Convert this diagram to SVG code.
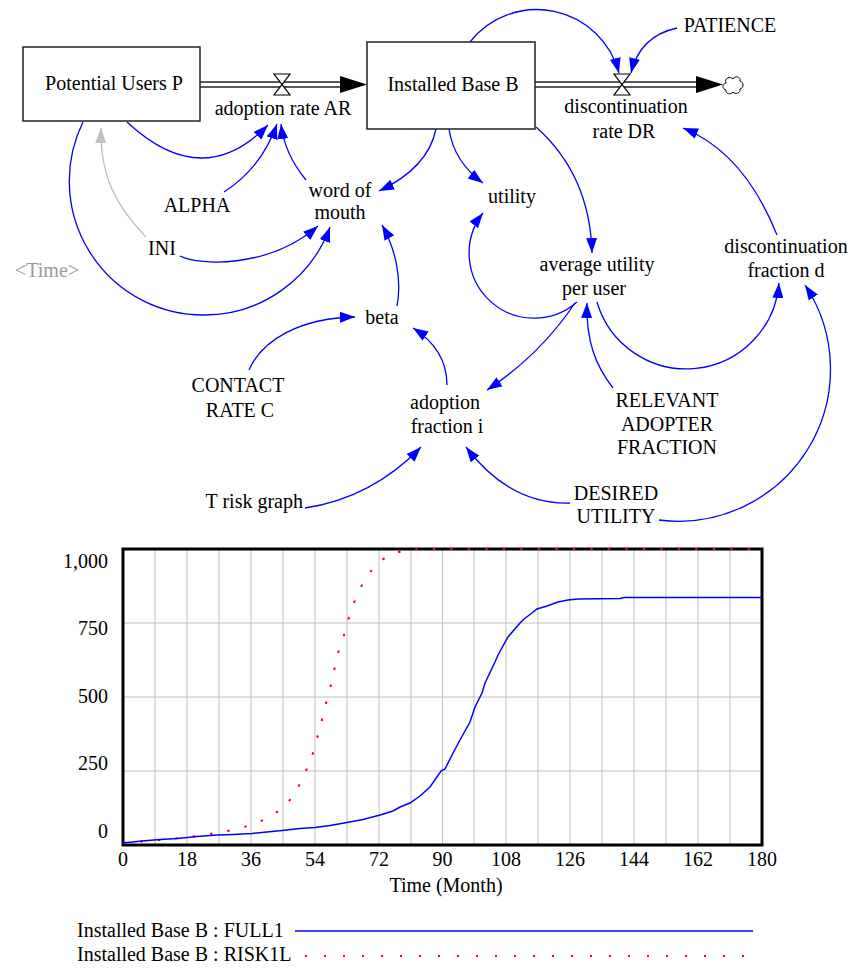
<svg xmlns="http://www.w3.org/2000/svg" width="854" height="968" viewBox="0 0 854 968">
<style>
.t{font-family:"Liberation Serif","Times New Roman",serif;font-size:20px;fill:#000;text-anchor:middle}
.g{fill:#999}
.c{fill:none;stroke:#0000ff;stroke-width:1.3;marker-end:url(#ab)}
.cg{fill:none;stroke:#c0c0c0;stroke-width:1.3;marker-end:url(#ag)}
.stock{fill:#fff;stroke:#222;stroke-width:1.5}
.pipe{stroke:#222;stroke-width:1.3;fill:none}
.valve{fill:#fff;stroke:#000;stroke-width:1.2}
.grid{stroke:#c0c0c0;stroke-width:1}
.ax{font-family:"Liberation Serif","Times New Roman",serif;font-size:20px;fill:#000}
</style>
<defs>
<marker id="ab" markerUnits="userSpaceOnUse" markerWidth="16" markerHeight="12" refX="15" refY="6" orient="auto" viewBox="0 0 16 12"><path d="M0,0.5 L15,6 L0,11.5 z" fill="#0000ff"/></marker>
<marker id="ag" markerUnits="userSpaceOnUse" markerWidth="16" markerHeight="12" refX="15" refY="6" orient="auto" viewBox="0 0 16 12"><path d="M0,0.5 L15,6 L0,11.5 z" fill="#c0c0c0"/></marker>
</defs>
<rect width="854" height="968" fill="#fff"/>

<g id="connectors">
<path class="c" d="M127,122 Q202.5,192.5 268,125"/>
<path class="c" d="M224,192 Q261.5,168 277,124"/>
<path class="c" d="M306,180 Q284.5,154 281,124"/>
<path class="c" d="M83,122 A134,134 0 0 0 204,315 A134,134 0 0 0 330,227"/>
<path class="cg" d="M146,237 C115,205 100,175 101,128"/>
<path class="c" d="M180,256 C200,266 270,268 318,226"/>
<path class="c" d="M436,129 Q428,168 379,191"/>
<path class="c" d="M397,306 C402,280 396,250 382,225"/>
<path class="c" d="M249,370 C262,340 300,318 355,317"/>
<path class="c" d="M447,385 C447,360 435,342 413,328"/>
<path class="c" d="M449,129 Q454,162 483,183"/>
<path class="c" d="M536,127 Q590,175 592,253"/>
<path class="c" d="M577,302 A65,65 0 0 1 483,213"/>
<path class="c" d="M575,303 Q540,355 487,390"/>
<path class="c" d="M613,388 C595,365 586,340 587,303"/>
<path class="c" d="M597,302 A93,93 0 0 0 779,283"/>
<path class="c" d="M659,520 A152,152 0 0 0 805,285"/>
<path class="c" d="M570,503 Q510,505 466,447"/>
<path class="c" d="M305,508 Q372,498 421,447"/>
<path class="c" d="M777,235 Q744,152.5 683,128"/>
<path class="c" d="M470,42 A85,85 0 0 1 619,73"/>
<path class="c" d="M677,28 Q640,36 631,73"/>
</g>

<g id="flow-adoption-rate">
<line class="pipe" x1="200" y1="82" x2="342" y2="82"/>
<line class="pipe" x1="200" y1="87" x2="342" y2="87"/>
<polygon points="340,76 367,84.5 340,93" fill="#000"/>
<polygon class="valve" points="274,74 290,74 274,95 290,95"/>
<text class="t" x="283" y="115">adoption rate AR</text>
</g>

<g id="flow-discontinuation-rate">
<line class="pipe" x1="535" y1="82" x2="698" y2="82"/>
<line class="pipe" x1="535" y1="87" x2="698" y2="87"/>
<polygon points="696,76 723,84.5 696,93" fill="#000"/>
<polygon class="valve" points="614,74 630,74 614,95 630,95"/>
<text class="t" x="626" y="113">discontinuation</text>
<text class="t" x="624" y="138">rate DR</text>
</g>

<g id="cloud">
<path d="M726,83 c-2,-5 4,-7 7,-4 c2,-4 8,-2 7,2 c4,1 4,7 0,8 c1,4 -5,6 -7,3 c-2,3 -8,2 -7,-2 c-4,-1 -4,-6 0,-7 z" fill="#fff" stroke="#000" stroke-width="1"/>
</g>

<g id="potential-users">
<rect class="stock" x="23" y="47" width="177" height="74"/>
<text class="t" x="114" y="90">Potential Users P</text>
</g>

<g id="installed-base">
<rect class="stock" x="367" y="42" width="168" height="87"/>
<text class="t" x="453" y="91">Installed Base B</text>
</g>

<g id="patience"><text class="t" x="730" y="32">PATIENCE</text></g>
<g id="alpha"><text class="t" x="197" y="212">ALPHA</text></g>
<g id="word-of-mouth"><text class="t" x="340" y="197">word of</text><text class="t" x="340" y="219">mouth</text></g>
<g id="ini"><text class="t" x="162" y="255">INI</text></g>
<g id="time"><text class="t g" x="47" y="277">&lt;Time&gt;</text></g>
<g id="beta"><text class="t" x="382" y="324">beta</text></g>
<g id="utility"><text class="t" x="512" y="203">utility</text></g>
<g id="average-utility"><text class="t" x="597" y="271">average utility</text><text class="t" x="594" y="295">per user</text></g>
<g id="discontinuation-fraction"><text class="t" x="786" y="253">discontinuation</text><text class="t" x="786" y="277">fraction d</text></g>
<g id="contact-rate"><text class="t" x="238" y="392">CONTACT</text><text class="t" x="240" y="417">RATE C</text></g>
<g id="adoption-fraction"><text class="t" x="445" y="409">adoption</text><text class="t" x="447" y="433">fraction i</text></g>
<g id="relevant-adopter-fraction"><text class="t" x="667" y="407">RELEVANT</text><text class="t" x="667" y="431">ADOPTER</text><text class="t" x="667" y="454">FRACTION</text></g>
<g id="t-risk-graph"><text class="t" x="303" y="508" style="text-anchor:end">T risk graph</text></g>
<g id="desired-utility"><text class="t" x="616" y="500">DESIRED</text><text class="t" x="616" y="523">UTILITY</text></g>

<g id="chart">
<g class="grid">
<line x1="155" y1="549" x2="155" y2="845"/><line x1="187" y1="549" x2="187" y2="845"/>
<line x1="219" y1="549" x2="219" y2="845"/><line x1="251" y1="549" x2="251" y2="845"/>
<line x1="283" y1="549" x2="283" y2="845"/><line x1="315" y1="549" x2="315" y2="845"/>
<line x1="347" y1="549" x2="347" y2="845"/><line x1="379" y1="549" x2="379" y2="845"/>
<line x1="411" y1="549" x2="411" y2="845"/><line x1="442.5" y1="549" x2="442.5" y2="845"/>
<line x1="474" y1="549" x2="474" y2="845"/><line x1="506" y1="549" x2="506" y2="845"/>
<line x1="538" y1="549" x2="538" y2="845"/><line x1="570" y1="549" x2="570" y2="845"/>
<line x1="602" y1="549" x2="602" y2="845"/><line x1="634" y1="549" x2="634" y2="845"/>
<line x1="666" y1="549" x2="666" y2="845"/><line x1="698" y1="549" x2="698" y2="845"/>
<line x1="730" y1="549" x2="730" y2="845"/>
<line x1="123" y1="623" x2="762" y2="623"/><line x1="123" y1="697" x2="762" y2="697"/><line x1="123" y1="771" x2="762" y2="771"/>
</g>
<rect x="123" y="549" width="639" height="296" fill="none" stroke="#000" stroke-width="3"/>
<polyline fill="none" stroke="#ff0000" stroke-width="2" stroke-dasharray="2.5 15" points="123,843 160,840 198,836 216,833 233,830 251,825 268,818 283,808 295,794 303,777 311,760 316,742 321,724 325,707 330,689 334,671 338,653 344,635 349,617 355,600 363,583 373,568 387,556 405,550 420,549 762,549"/>
<polyline fill="none" stroke="#0000ff" stroke-width="1.5" points="123,843 142,841 160,839.5 177,838.5 197,836.5 217,835 233,834.5 252,833.5 267,832 282,830.5 300,828.5 315,827.5 330,825.5 347,822.5 363,819.5 380,815 393,811 400,807 410,803 420,796 430,787 441,771 445,769 452,755 460,740 470,722 475,707 482,693 485,683 495,662 498,655 508,637 520,623 524,619 532,613 537,609 547,606 558,602 568,600 578,599 620,598.5 624,597.5 762,597.5"/>
<g class="ax" text-anchor="end">
<text x="108" y="568">1,000</text><text x="108" y="635">750</text><text x="108" y="703">500</text><text x="108" y="770">250</text><text x="108" y="838">0</text>
</g>
<g class="ax" text-anchor="middle">
<text x="123" y="866">0</text><text x="187" y="866">18</text><text x="251" y="866">36</text><text x="315" y="866">54</text><text x="379" y="866">72</text><text x="442.5" y="866">90</text><text x="506" y="866">108</text><text x="570" y="866">126</text><text x="634" y="866">144</text><text x="698" y="866">162</text><text x="762" y="866">180</text>
<text x="446" y="892">Time (Month)</text>
</g>
</g>

<g id="legend">
<text class="ax" x="77" y="937">Installed Base B : FULL1</text>
<line x1="295" y1="931" x2="753" y2="931" stroke="#0000ff" stroke-width="1.5"/>
<text class="ax" x="77" y="961">Installed Base B : RISK1L</text>
<line x1="305" y1="956" x2="753" y2="956" stroke="#ff0000" stroke-width="2" stroke-dasharray="2 17"/>
</g>
</svg>
